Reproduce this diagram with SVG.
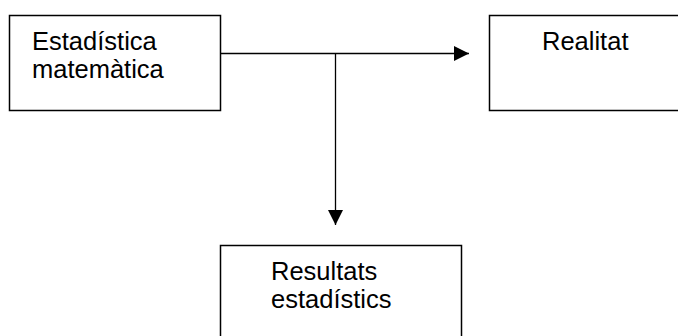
<svg xmlns="http://www.w3.org/2000/svg" width="678" height="336" viewBox="0 0 678 336">
<defs>
<style>
.box{fill:#fff;stroke:#000;stroke-width:1.5}
.t{font-family:"Liberation Sans",Arial,sans-serif;font-size:25.5px;fill:#000}
.ln{stroke:#000;stroke-width:1.3;fill:none}
</style>
<marker id="ah" markerWidth="16" markerHeight="16" refX="15" refY="7.5" orient="auto" markerUnits="userSpaceOnUse">
<path d="M0,0 L15,7.5 L0,15 Z" fill="#000"/>
</marker>
</defs>
<g id="connectors">
<line class="ln" x1="220" y1="53.5" x2="469" y2="53.5" marker-end="url(#ah)"/>
<line class="ln" x1="335.5" y1="53.5" x2="335.5" y2="225" marker-end="url(#ah)"/>
</g>
<g id="estadistica">
<rect class="box" x="9.5" y="15.5" width="211" height="95"/>
<text class="t" x="32" y="50">Estadística</text>
<text class="t" x="32" y="78">matemàtica</text>
</g>
<g id="realitat">
<rect class="box" x="489.5" y="15.5" width="200" height="95"/>
<text class="t" x="542" y="50">Realitat</text>
</g>
<g id="resultats">
<rect class="box" x="220.5" y="245.5" width="241" height="100"/>
<text class="t" x="271" y="280">Resultats</text>
<text class="t" x="271" y="308">estadístics</text>
</g>
</svg>
